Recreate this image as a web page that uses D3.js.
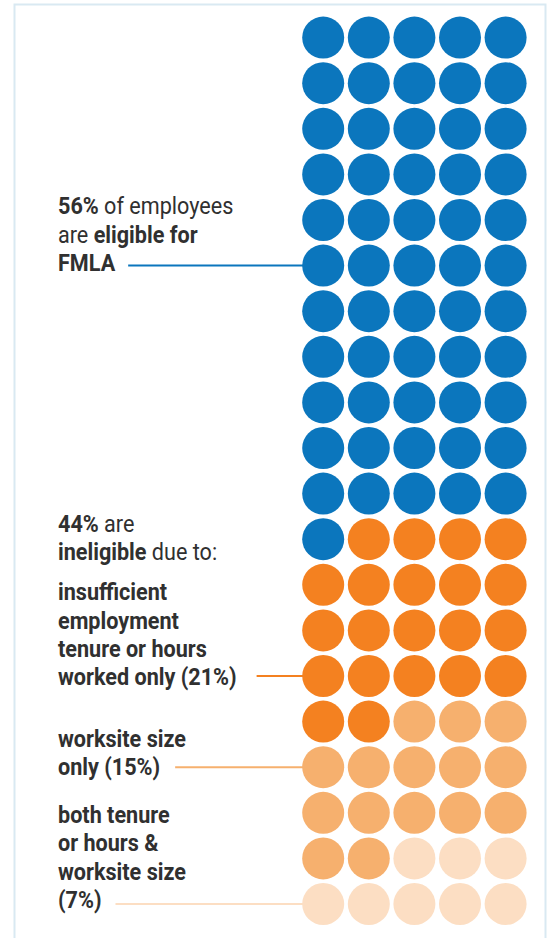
<!DOCTYPE html>
<html><head><meta charset="utf-8">
<script src="https://cdn.jsdelivr.net/npm/d3@7"></script>
<style>
html,body{margin:0;padding:0;background:#fff;}
svg{display:block;}
text{font-family:Roboto,"Noto Sans",sans-serif;fill:#303030;}
</style></head>
<body>
<svg id="chart" width="548" height="938"></svg>
<script>
// ---- data ----
const categories = ["eligible for FMLA", "tenure or hours only", "worksite size only", "both tenure/hours & worksite size"];
const percents = [56, 21, 15, 7];
const dotCounts = [56, 21, 15, 8];
const colors = ["#0b76bd", "#f48120", "#f6b06e", "#fcdec3"];
const leaderRows = [5, 14, 16, 19];
// label lines: arrays of [text, bold]
const labelBlocks = [
  {cat: 0, lines: [[["56%", true], [" of employees", false]], [["are ", false], ["eligible for", true]], [["FMLA", true]]]},
  {cat: null, lines: [[["44%", true], [" are", false]], [["ineligible", true], [" due to:", false]]]},
  {cat: 1, lines: [[["insufficient", true]], [["employment", true]], [["tenure or hours", true]], [["worked only (21%)", true]]]},
  {cat: 2, lines: [[["worksite size", true]], [["only (15%)", true]]]},
  {cat: 3, lines: [[["both tenure", true]], [["or hours &", true]], [["worksite size", true]], [["(7%)", true]]]}
];

// ---- layout ----
const blockFirstBaselines = [214.3, 531.5, 600.2, 746.6, 822.7];
const leaderGaps = [13, 20, 15, 14];
const nCols = 5, nRows = 20;
const svg = d3.select("#chart");

// frame
svg.append("rect").attr("x", 14.5).attr("y", 4.5).attr("width", 531).attr("height", 960)
  .attr("fill", "none").attr("stroke", "#d9e9f2").attr("stroke-width", 2);

const x = d3.scalePoint().domain(d3.range(nCols)).range([323.2, 505.6]);
const y = d3.scalePoint().domain(d3.range(nRows)).range([37.6, 904]);
const r = 21;

// build dots
const dots = [];
dotCounts.forEach((c, ci) => { for (let i = 0; i < c; i++) dots.push(ci); });
const lineLayer = svg.append("g");
svg.append("g").selectAll("circle").data(dots).join("circle")
  .attr("cx", (d, i) => x(i % nCols))
  .attr("cy", (d, i) => y(Math.floor(i / nCols)))
  .attr("r", r)
  .attr("fill", d => colors[d]);

// labels
const fs = 24, sx = 0.9, lh = 28.4, tx = 58;
labelBlocks.forEach((b, bi) => {
  const g = svg.append("g");
  let lastText;
  b.lines.forEach((ln, li) => {
    const t = g.append("text")
      .attr("transform", `translate(${tx},${blockFirstBaselines[bi] + li * lh}) scale(${sx},1)`)
      .attr("font-size", fs);
    ln.forEach(([s, bold]) => {
      t.append("tspan").text(s).attr("font-weight", bold ? 700 : 400).style("white-space", "pre");
    });
    lastText = t;
  });
  if (b.cat !== null) {
    const w = lastText.node().getComputedTextLength() * sx;
    const ly = y(leaderRows[b.cat]);
    lineLayer.append("line").attr("x1", tx + w + leaderGaps[b.cat]).attr("x2", x(0) - r + 1)
      .attr("y1", ly).attr("y2", ly)
      .attr("stroke", colors[b.cat]).attr("stroke-width", 2);
  }
});
</script>
</body></html>
